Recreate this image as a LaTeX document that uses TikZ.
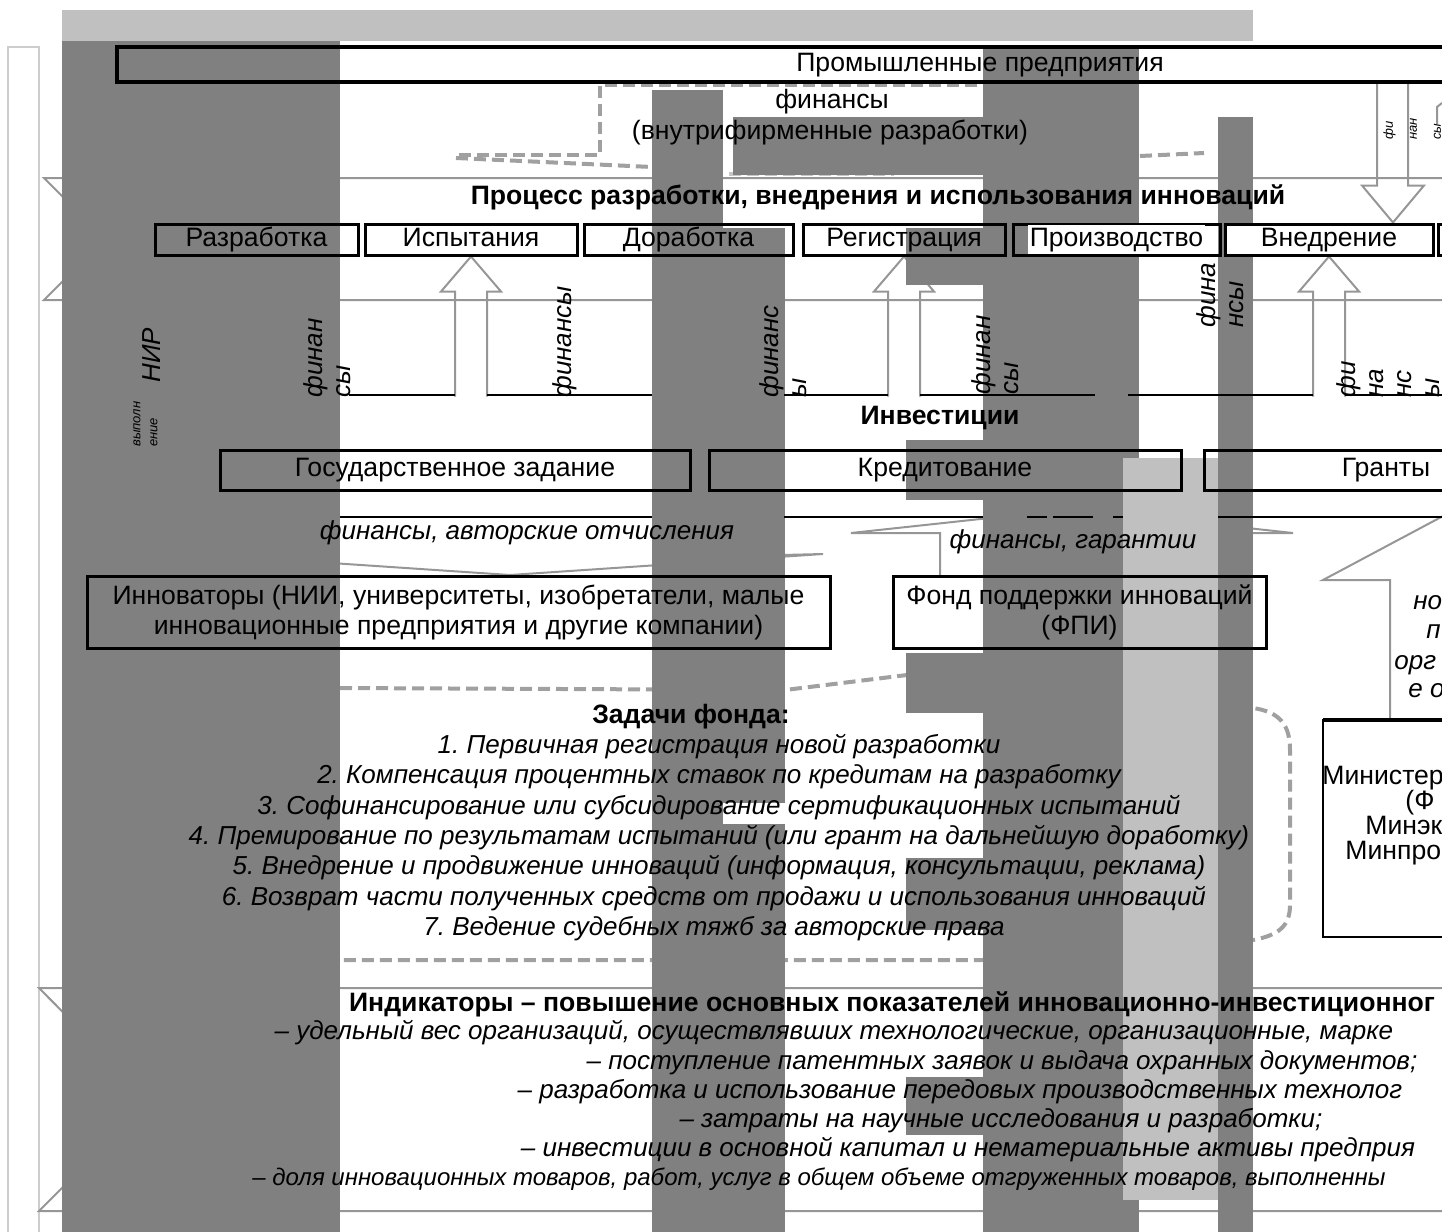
\documentclass[tikz,border=0pt]{standalone}
\usepackage{fontspec}
\setmainfont{Liberation Sans}
\usetikzlibrary{positioning,backgrounds}
\definecolor{barDark}{RGB}{128,128,128}
\definecolor{barLight}{RGB}{192,192,192}
\definecolor{lineGrey}{RGB}{150,150,150}
\definecolor{dashGrey}{RGB}{160,160,160}
\definecolor{frameGrey}{RGB}{205,205,205}
\frenchspacing

\begin{document}
\begin{tikzpicture}[
		x=0.5pt, y=-0.5pt,
		every node/.style={inner sep=0pt, text height=9.5pt, text depth=2.7pt, font=\fontsize{13.3}{14}\selectfont},
		pbox/.style={draw, line width=1.5pt, minimum height=15.5pt},
		ibox/.style={draw, line width=1.5pt, minimum height=20pt},
		lbox/.style={draw, line width=1.5pt, minimum height=36pt, align=center, text height=, text depth=, font=\fontsize{13.3}{15}\selectfont},
		headtext/.style={font=\fontsize{13.3}{14}\selectfont\bfseries},
		tasktext/.style={font=\fontsize{13}{14}\selectfont\itshape},
		rotlabel/.style={rotate=90, anchor=north west, align=left, text height=, text depth=, font=\fontsize{13}{14}\selectfont\itshape},
		rotsmall/.style={rotate=90, anchor=north west, align=left, text height=, text depth=, font=\fontsize{6.5}{8.5}\selectfont\itshape},
		band/.style={draw=lineGrey, line width=1pt},
		blockarrow/.style={draw=lineGrey, line width=1pt},
		dashline/.style={draw=dashGrey, line width=2pt, dash pattern=on 6pt off 3pt}
	]
  \useasboundingbox (0,0) rectangle (1442,1232);
  \clip (0,0) rectangle (1442,1232);

  \node (prom) at (980,65) {Промышленные предприятия};
  \draw[line width=1.8pt] (117,47) rectangle (1470,82);
  \node (finTop) at (832,102) {финансы};
  \node (finTopB) at (830,133) {(внутрифирменные разработки)};
  \node[headtext] (proc) at (878,198) {Процесс разработки, внедрения и использования инноваций};

  \node[pbox, minimum width=101.5pt] (razr) at (256.5,239.5) {Разработка};
  \node[pbox, minimum width=106pt] (isp) at (471,239.5) {Испытания};
  \node[pbox, minimum width=104.5pt] (dor) at (688.5,239.5) {Доработка};
  \node[pbox, minimum width=101pt] (reg) at (904,239.5) {Регистрация};
  \node[pbox, minimum width=103.5pt] (proizv) at (1116.5,239.5) {};
  \node[fill=white, inner sep=1pt] (proizvText) at (proizv) {Производство};
  \node[pbox, minimum width=104pt, fill=white] (vnedr) at (1329,239.5) {Внедрение};
  \draw[line width=1.5pt] (1470,224) -- (1438,224) -- (1438,255) -- (1470,255);

  \node[rotlabel] (nir) at (142,383) {НИР};
  \node[rotsmall] (vyp) at (133,447) {выполн\\ение};
  \node[rotlabel] (fA) at (303,398) {финан\\сы};
  \node[rotlabel] (fB) at (552,398) {финансы};
  \node[rotlabel] (fC) at (759,398) {финанс\\ы};
  \node[rotlabel] (fD) at (971,395) {финан\\сы};
  \node[rotlabel] (fE) at (1196,328) {фина\\нсы};
  \node[rotlabel] (fF) at (1336,398) {фи\\на\\нс\\ы};
  \node[rotsmall, font=\fontsize{6.5}{12}\selectfont\itshape] (fG) at (1383,140) {фи\\нан\\сы};

  \foreach \a/\b in {349/455, 487/652, 784/888, 920/1095, 1128/1313, 1345/1470}
    \draw[line width=1pt] (\a,395) -- (\b,395);
  \node[headtext] (inv) at (940,418) {Инвестиции};
  \node[ibox, minimum width=235pt] (gos) at (455,470) {Государственное задание};
  \node[ibox, minimum width=236pt] (kred) at (945,470) {Кредитование};
  \node (grant) at (1386,470) {Гранты};
  \draw[line width=1.5pt] (1470,450) -- (1204,450) -- (1204,490) -- (1470,490);
  \foreach \a/\b in {340/652, 784/983, 1027/1047, 1053/1093, 1113/1123, 1218/1470}
    \draw[line width=1pt] (\a,517) -- (\b,517);

  \node[tasktext] (avt) at (527,533) {финансы, авторские отчисления};
  \node[tasktext] (gar) at (1073,542) {финансы, гарантии};
  \node[lbox, minimum width=371.5pt] (innov) at (458.5,612) {Инноваторы (НИИ, университеты, изобретатели, малые\\инновационные предприятия и другие компании)};
  \node[lbox, minimum width=186.5pt] (fpi) at (1079.5,612) {Фонд поддержки инноваций\\(ФПИ)};

  \node[tasktext, anchor=west] (gr1) at (1413,603) {но};
  \node[tasktext, anchor=west] (gr2) at (1426,632) {п};
  \node[tasktext, anchor=west] (gr3) at (1394,663) {орг};
  \node[tasktext, anchor=west] (gr4) at (1408,691) {е о};
  \draw[line width=0.8pt] (1470,720) -- (1323,720) -- (1323,937) -- (1470,937);
  \draw[line width=1.6pt] (1323,720) -- (1470,720);
  \node[anchor=west] (min1) at (1322,778) {Министер};
  \node[anchor=west] (min2) at (1405,803) {(Ф};
  \node[anchor=west] (min3) at (1365,828) {Минэк};
  \node[anchor=west] (min4) at (1345,853) {Минпро};

  \node[headtext] (zad) at (691,717) {Задачи фонда:};
  \node[tasktext] (t1) at (719,747) {1. Первичная регистрация новой разработки};
  \node[tasktext] (t2) at (719,777) {2. Компенсация процентных ставок по кредитам на разработку};
  \node[tasktext] (t3) at (719,808) {3. Софинансирование или субсидирование сертификационных испытаний};
  \node[tasktext] (t4) at (719,838) {4. Премирование по результатам испытаний (или грант на дальнейшую доработку)};
  \node[tasktext] (t5) at (719,868) {5. Внедрение и продвижение инноваций (информация, консультации, реклама)};
  \node[tasktext] (t6) at (714,899) {6. Возврат части полученных средств от продажи и использования инноваций};
  \node[tasktext] (t7) at (714,929) {7. Ведение судебных тяжб за авторские права};

  \node[headtext] (ind) at (892,1005) {Индикаторы – повышение основных показателей инновационно-инвестиционног};
  \node[tasktext] (i1) at (834,1033) {– удельный вес организаций, осуществлявших технологические, организационные, марке};
  \node[tasktext] (i2) at (1002,1063) {– поступление патентных заявок и выдача охранных документов;};
  \node[tasktext] (i3) at (960,1092) {– разработка и использование передовых производственных технолог};
  \node[tasktext] (i4) at (1001,1121) {– затраты на научные исследования и разработки;};
  \node[tasktext] (i5) at (968,1150) {– инвестиции в основной капитал и нематериальные активы предприя};
  \node[tasktext, font=\fontsize{12}{13}\selectfont\itshape] (i6) at (819,1179) {– доля инновационных товаров, работ, услуг в общем объеме отгруженных товаров, выполненны};

  \begin{scope}[on background layer]
    \clip (0,0) rectangle (1442,1232);
    \draw[frameGrey, line width=1.2pt] (8,1240) -- (8,47) -- (39,47) -- (39,1240);
    \draw[band] (1470,178) -- (44,178) -- (105,239) -- (44,300) -- (1470,300);
    \draw[band] (1470,988) -- (39,988) -- (150,1100) -- (39,1211) -- (1470,1211);
    \foreach \n in {isp, reg, vnedr}
      \draw[blockarrow] (\n.south) ++(-16,140) -- ++(0,-105) -- ++(-14,0) -- (\n.south) -- ++(30,35) -- ++(-14,0) -- ++(0,105);
    \draw[blockarrow] ([xshift=32pt]vnedr.north) ++(-16,-141) -- ++(0,104) -- ++(-15,0) -- ([xshift=32pt]vnedr.north) -- ++(31,-37) -- ++(-16,0) -- ++(0,-104);
    \draw[blockarrow] (1442,103) -- (1437,107) -- (1437,124);
    \draw[blockarrow] (238,517) -- (238,555) -- (197,554) -- (510,575) -- (823,554) -- (782,555) -- (782,517);
    \draw[blockarrow] (940,576) -- (940,533) -- (851,533) -- (1073,509) -- (1293,533) -- (1207,533) -- (1207,576);
    \draw[blockarrow] (1390,720) -- (1390,580) -- (1323,580) -- (1460,507);
    \draw[dashline] (977,85) -- (600,85) -- (600,155) -- (456,155);
    \draw[dashline] (456,158) -- (652,167);
    \draw[dashline, draw=dashGrey!60] (729,174) -- (894,174);
    \draw[dashline] (1140,156) -- (1204,153);
    \draw[dashline] (340,688) -- (785,690) -- (907,675) -- (1253,708)
      .. controls (1280,712) and (1290,725) .. (1290,750) -- (1290,905)
      .. controls (1290,925) and (1280,935) .. (1253,940) -- (982,960) -- (340,960);
    \fill[barLight] (62,10) rectangle (1253,41);
    \fill[barDark] (62,41) rectangle (340,1232);
    \fill[barDark] (652,90) rectangle (723,1232);
    \fill[barDark] (723,228) rectangle (785,803);
    \fill[barDark] (723,824) rectangle (785,1232);
    \fill[barDark] (733,117) rectangle (983,175);
    \fill[barDark] (983,45) rectangle (1139,1232);
    \foreach \a/\b in {228/285, 440/500, 653/713, 858/930, 1077/1135}
      \fill[barDark] (906,\a) rectangle (983,\b);
    \fill[barLight] (1123,458) rectangle (1218,1200);
    \fill[barDark] (1218,117) rectangle (1253,1232);
  \end{scope}
\end{tikzpicture}
\end{document}
